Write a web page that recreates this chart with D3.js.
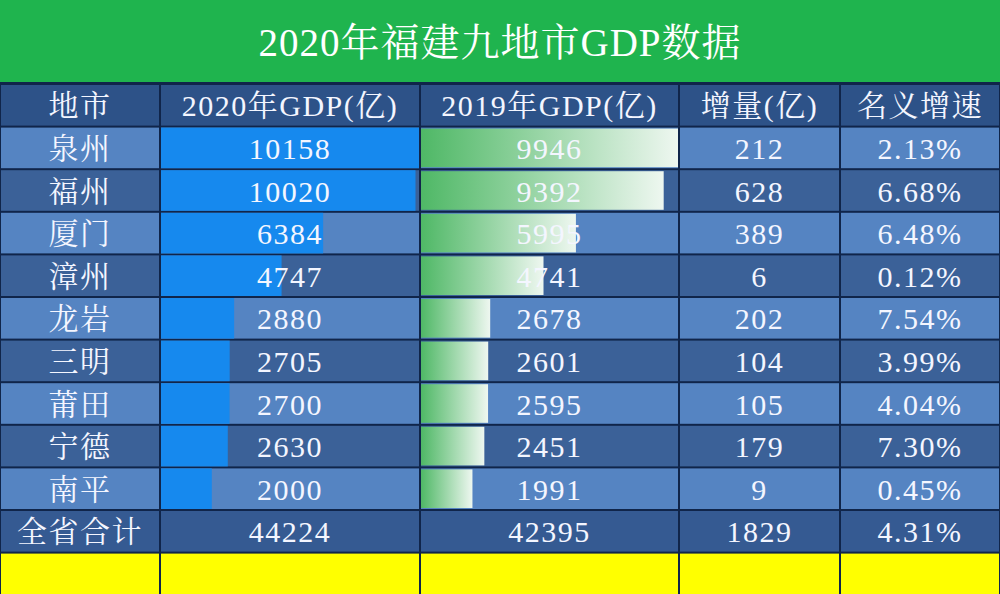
<!DOCTYPE html>
<html><head><meta charset="utf-8">
<script src="https://cdn.jsdelivr.net/npm/d3@7"></script>
<style>body{margin:0;background:#fff}</style></head>
<body><svg id="c" width="1000" height="594"></svg>
<script>
const title = "2020年福建九地市GDP数据";
const headers = ["地市","2020年GDP(亿)","2019年GDP(亿)","增量(亿)","名义增速"];
const cities = ["泉州","福州","厦门","漳州","龙岩","三明","莆田","宁德","南平"];
const gdp2020 = [10158,10020,6384,4747,2880,2705,2700,2630,2000];
const gdp2019 = [9946,9392,5995,4741,2678,2601,2595,2451,1991];
const increase = [212,628,389,6,202,104,105,179,9];
const growth = ["2.13%","6.68%","6.48%","0.12%","7.54%","3.99%","4.04%","7.30%","0.45%"];
const total = ["全省合计","44224","42395","1829","4.31%"];

const svg = d3.select("#c");
const colX = [0,160,420,679,840,1000];
const rowH = 42.6, top0 = 84;
const y = i => top0 + i*rowH;
const font = "'Liberation Serif','Noto Serif CJK SC','Noto Sans CJK SC',serif";
const defs = svg.append("defs");
const g = defs.append("linearGradient").attr("id","gr");
g.append("stop").attr("offset","0%").attr("stop-color","#4fb866");
g.append("stop").attr("offset","100%").attr("stop-color","#eef7f0");

svg.append("rect").attr("width",1000).attr("height",594).attr("fill","#10254a");
svg.append("rect").attr("width",1000).attr("height",82).attr("fill","#1fb44e");
svg.append("text").attr("x",500).attr("y",56).attr("text-anchor","middle")
  .attr("font-family",font).attr("font-size",39).attr("letter-spacing",1).attr("fill","#fff").text(title);

const x20 = d3.scaleLinear().domain([0,10158]).range([0,colX[2]-colX[1]-2]);
const x19 = d3.scaleLinear().domain([0,9946]).range([0,colX[3]-colX[2]-2]);

function cellRow(ri, fill){
  for(let c=0;c<5;c++){
    svg.append("rect").attr("x",colX[c]+1).attr("y",y(ri)+1)
      .attr("width",colX[c+1]-colX[c]-2).attr("height",rowH-2).attr("fill",fill);
  }
}
cellRow(0,"#2d5288");
cities.forEach((c,i)=>cellRow(i+1, i%2===0?"#5584c2":"#3b6198"));
cellRow(10,"#355a92");
for(let c=0;c<5;c++) svg.append("rect").attr("x",colX[c]+1).attr("y",y(11)+1)
  .attr("width",colX[c+1]-colX[c]-2).attr("height",594-y(11)).attr("fill","#ffff00");

svg.selectAll(".b20").data(gdp2020).join("rect").attr("x",colX[1]+1)
  .attr("y",(d,i)=>y(i+1)+1).attr("width",d=>x20(d)).attr("height",rowH-2).attr("fill","#1689ee");
svg.selectAll(".b19").data(gdp2019).join("rect").attr("x",colX[2]+1)
  .attr("y",(d,i)=>y(i+1)+2).attr("width",d=>x19(d)).attr("height",rowH-4).attr("fill","url(#gr)");

function txt(c,ri,t){
  svg.append("text").attr("x",(colX[c]+colX[c+1])/2).attr("y",y(ri)+rowH/2+11)
    .attr("text-anchor","middle").attr("font-family",font).attr("font-size",30)
    .attr("letter-spacing",1.5).attr("fill","#f4f6ff").text(t);
}
headers.forEach((h,c)=>txt(c,0,h));
cities.forEach((ct,i)=>{
  txt(0,i+1,ct); txt(1,i+1,gdp2020[i]); txt(2,i+1,gdp2019[i]);
  txt(3,i+1,increase[i]); txt(4,i+1,growth[i]);
});
total.forEach((t,c)=>txt(c,10,t));
</script></body></html>
